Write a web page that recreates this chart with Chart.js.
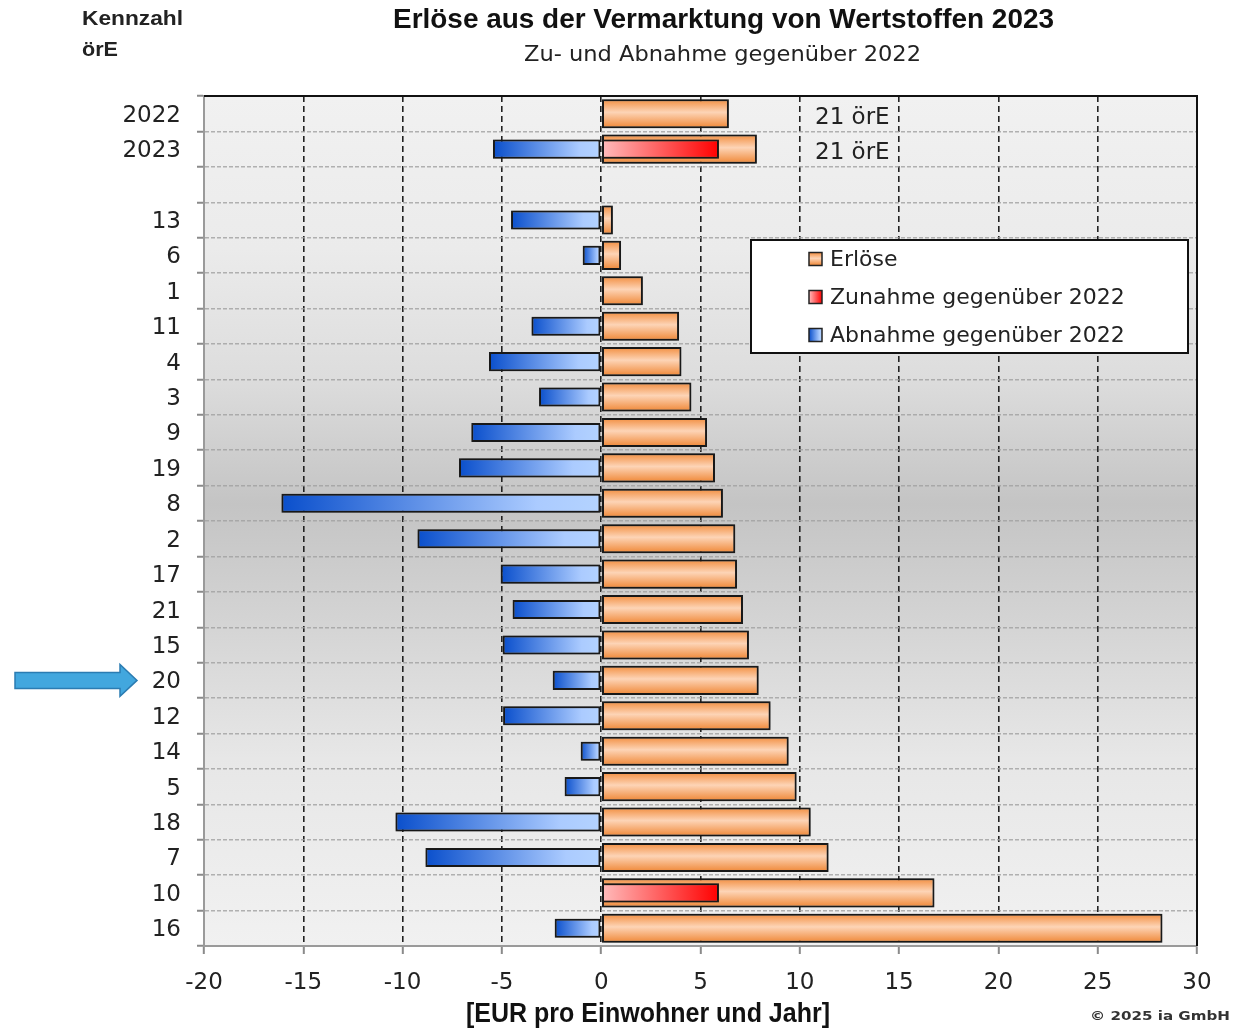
<!DOCTYPE html>
<html><head><meta charset="utf-8">
<script src="https://cdn.jsdelivr.net/npm/chart.js@4.4.1/dist/chart.umd.min.js"></script>
<style>html,body{margin:0;padding:0;background:#fff;}canvas{display:block;}</style>
</head><body>
<canvas id="c" width="1233" height="1032"></canvas>
<script>
// ---------- data ----------
const categories = ['2022','2023','','13','6','1','11','4','3','9','19','8','2','17','21','15','20','12','14','5','18','7','10','16'];
const erloese = [6.43,7.84,null,0.59,1.0,2.1,3.92,4.04,4.54,5.33,5.73,6.13,6.75,6.84,7.14,7.44,7.93,8.53,9.44,9.84,10.55,11.45,16.78,28.26];
const zunahme = [null,5.93,null,null,null,null,null,null,null,null,null,null,null,null,null,null,null,null,null,null,null,null,5.93,null];
const abnahme = [null,-5.45,null,-4.54,-0.93,null,-3.51,-5.65,-3.13,-6.54,-7.16,-16.1,-9.25,-5.06,-4.46,-4.96,-2.44,-4.94,-1.03,-1.84,-10.36,-8.85,null,-2.34];
const xTicks = [-20,-15,-10,-5,0,5,10,15,20,25,30];
const seriesLabels = ['Erlöse','Zunahme gegenüber 2022','Abnahme gegenüber 2022'];
const rowNotes = [['2022','21 örE'],['2023','21 örE']];
const highlighted = '20';
const titleText = 'Erlöse aus der Vermarktung von Wertstoffen 2023';
const subtitleText = 'Zu- und Abnahme gegenüber 2022';
const xAxisTitle = '[EUR pro Einwohner und Jahr]';
const cornerLabel = ['Kennzahl','örE'];
const credit = '© 2025 ia GmbH';

// ---------- fills ----------
const ok = (...v) => v.every(Number.isFinite);
function orangeGrad(c, y0, y1){
  const g = c.createLinearGradient(0,y0,0,y1);
  g.addColorStop(0,'#f28d3e'); g.addColorStop(0.45,'#fdd4b6'); g.addColorStop(1,'#ef8634');
  return g;
}
function blueGrad(c, xFar, xZero){
  const g = c.createLinearGradient(xFar,0,xZero,0);
  g.addColorStop(0,'#0a4fcc'); g.addColorStop(0.8,'#abcbff'); g.addColorStop(1,'#b4d3ff');
  return g;
}
function redGrad(c, xZero, xFar){
  const g = c.createLinearGradient(xZero,0,xFar,0);
  g.addColorStop(0,'#ffbdbd'); g.addColorStop(1,'#ff0000');
  return g;
}
function orangeFill(ctx){
  const ch = ctx.chart, ys = ch.scales && ch.scales.y;
  if(!ys || !Number.isInteger(ctx.dataIndex)) return '#f8b47f';
  const yc = ys.getPixelForValue(ctx.dataIndex);
  const h = (ys.bottom-ys.top)/categories.length*0.82;
  if(!ok(yc,h)) return '#f8b47f';
  return orangeGrad(ch.ctx, yc-h/2, yc+h/2);
}
function blueFill(ctx){
  const ch = ctx.chart, xs = ch.scales && ch.scales.x;
  if(!xs || typeof ctx.raw !== 'number') return '#7fb0f0';
  const a = xs.getPixelForValue(ctx.raw), b = xs.getPixelForValue(0);
  if(!ok(a,b) || a===b) return '#7fb0f0';
  return blueGrad(ch.ctx, a, b);
}
function redFill(ctx){
  const ch = ctx.chart, xs = ch.scales && ch.scales.x;
  if(!xs || typeof ctx.raw !== 'number') return '#ff7070';
  const a = xs.getPixelForValue(0), b = xs.getPixelForValue(ctx.raw);
  if(!ok(a,b) || a===b) return '#ff7070';
  return redGrad(ch.ctx, a, b);
}

function fitText(c, text, x, y, width, font, align, color){
  c.save(); c.font = font; c.fillStyle = color; c.textBaseline = 'middle';
  const w = c.measureText(text).width; const s = w > 0 ? width / w : 1;
  c.translate(x, y); c.scale(s, 1); c.textAlign = align; c.fillText(text, 0, 0); c.restore();
}

// ---------- plugins ----------
const decor = {
  id:'decor',
  beforeDraw(chart){
    const c = chart.ctx, a = chart.chartArea;
    c.save();
    c.fillStyle = '#fff'; c.fillRect(0,0,chart.width,chart.height);
    const g = c.createLinearGradient(0,a.top,0,a.bottom);
    g.addColorStop(0,'#f1f1f1'); g.addColorStop(0.18,'#ebebeb'); g.addColorStop(0.33,'#dddddd');
    g.addColorStop(0.48,'#c4c4c4'); g.addColorStop(0.62,'#d4d4d4'); g.addColorStop(0.78,'#e7e7e7'); g.addColorStop(1,'#f1f1f1');
    c.fillStyle = g; c.fillRect(a.left,a.top,a.right-a.left,a.bottom-a.top);
    c.restore();
  },
  beforeDatasetsDraw(chart){
    const c = chart.ctx; c.save();
    c.shadowColor = 'rgba(0,0,0,0.45)'; c.shadowBlur = 4; c.shadowOffsetX = 0; c.shadowOffsetY = 0;
  },
  afterDatasetsDraw(chart){
    const c = chart.ctx; c.restore();
    const a = chart.chartArea, ys = chart.scales.y;
    c.save(); c.strokeStyle = '#111'; c.lineWidth = 2;
    c.beginPath(); c.moveTo(a.left, a.top); c.lineTo(a.right, a.top); c.lineTo(a.right, a.bottom); c.stroke();
    c.restore();
    c.save(); c.font = '23px "DejaVu Sans"'; c.fillStyle = '#222'; c.textBaseline = 'middle'; c.textAlign = 'left';
    rowNotes.forEach(([cat, txt]) => { c.fillText(txt, 815, ys.getPixelForValue(categories.indexOf(cat)) + 4); });
    c.restore();
    const L = {x:751, y:240, w:437, h:113};
    c.save();
    c.fillStyle = '#fff'; c.fillRect(L.x, L.y, L.w, L.h);
    c.strokeStyle = '#111'; c.lineWidth = 2; c.strokeRect(L.x, L.y, L.w, L.h);
    const rows = [259, 297, 335];
    chart.data.datasets.slice().sort((p,q)=>p.legendIndex-q.legendIndex).forEach((ds, i) => {
      const yc = rows[i], sx = 809, sy = yc-6.5, s = 13;
      let f;
      if(i===0) f = orangeGrad(c, sy, sy+s);
      else if(i===1) f = redGrad(c, sx, sx+s);
      else f = blueGrad(c, sx, sx+s);
      c.fillStyle = f; c.fillRect(sx, sy, s, s);
      c.strokeStyle = '#222'; c.lineWidth = 1.5; c.strokeRect(sx, sy, s, s);
      c.font = '22px "DejaVu Sans"'; c.fillStyle = '#222'; c.textBaseline = 'middle'; c.textAlign = 'left';
      c.fillText(ds.label, 830, yc + 1);
    });
    c.restore();
  },
  afterDraw(chart){
    const c = chart.ctx, ys = chart.scales.y;
    fitText(c, titleText, 723.5, 20, 661, 'bold 28px "Liberation Sans"', 'center', '#111');
    fitText(c, subtitleText, 722.5, 56, 397, '21px "DejaVu Sans"', 'center', '#222');
    fitText(c, cornerLabel[0], 82, 19, 101, 'bold 21px "Liberation Sans"', 'left', '#222');
    fitText(c, cornerLabel[1], 82, 50, 36, 'bold 21px "Liberation Sans"', 'left', '#222');
    fitText(c, xAxisTitle, 648, 1015, 364, 'bold 27px "Liberation Sans Narrow", "Liberation Sans"', 'center', '#111');
    fitText(c, credit, 1090, 1017, 140, 'bold 13px "DejaVu Sans"', 'left', '#333');
    const yc = ys.getPixelForValue(categories.indexOf(highlighted));
    c.save();
    c.beginPath();
    c.moveTo(15, yc-8); c.lineTo(120, yc-8); c.lineTo(120, yc-16); c.lineTo(137, yc);
    c.lineTo(120, yc+16); c.lineTo(120, yc+8); c.lineTo(15, yc+8); c.closePath();
    c.fillStyle = '#42a7de'; c.fill();
    c.strokeStyle = '#2b7cb2'; c.lineWidth = 1.5; c.stroke();
    c.restore();
  }
};

new Chart(document.getElementById('c'), {
  type:'bar',
  data:{
    labels: categories,
    datasets:[
      {label: seriesLabels[1], legendIndex:1, data: zunahme, order:0, backgroundColor: redFill, barPercentage:0.54},
      {label: seriesLabels[2], legendIndex:2, data: abnahme, order:1, backgroundColor: blueFill, barPercentage:0.54},
      {label: seriesLabels[0], legendIndex:0, data: erloese, order:2, backgroundColor: orangeFill, barPercentage:0.82}
    ]
  },
  options:{
    indexAxis:'y',
    responsive:false,
    animation:false,
    devicePixelRatio:1,
    layout:{padding:{top:96, right:36, left:0, bottom:0}},
    datasets:{bar:{grouped:false, categoryPercentage:1, borderColor:'#1c1c1c', borderWidth:2, borderSkipped:false}},
    plugins:{legend:{display:false}, tooltip:{enabled:false}, title:{display:false}},
    scales:{
      x:{
        type:'linear', min:-20, max:30,
        afterBuildTicks: s => { s.ticks = xTicks.map(v => ({value:v})); },
        ticks:{font:{family:'DejaVu Sans', size:23}, color:'#222', padding:15},
        grid:{color:'#222', lineWidth:1.6, tickLength:8, tickColor:'#8a8a8a', tickWidth:2, tickBorderDash:[]},
        border:{display:true, color:'#9a9a9a', width:2, dash:[6,4]},
        afterFit: s => { s.height = 86; }
      },
      y:{
        type:'category',
        grid:{offset:true, color:'rgba(160,160,160,0.8)', lineWidth:1.5, tickLength:7, tickColor:'#8a8a8a', tickWidth:2, tickBorderDash:[]},
        border:{display:true, color:'#9a9a9a', width:2, dash:[4,2]},
        ticks:{font:{family:'DejaVu Sans', size:23}, color:'#222', padding:16, autoSkip:false, labelOffset:2},
        afterFit: s => { s.width = 204; }
      }
    }
  },
  plugins:[decor]
});
</script>
</body></html>
